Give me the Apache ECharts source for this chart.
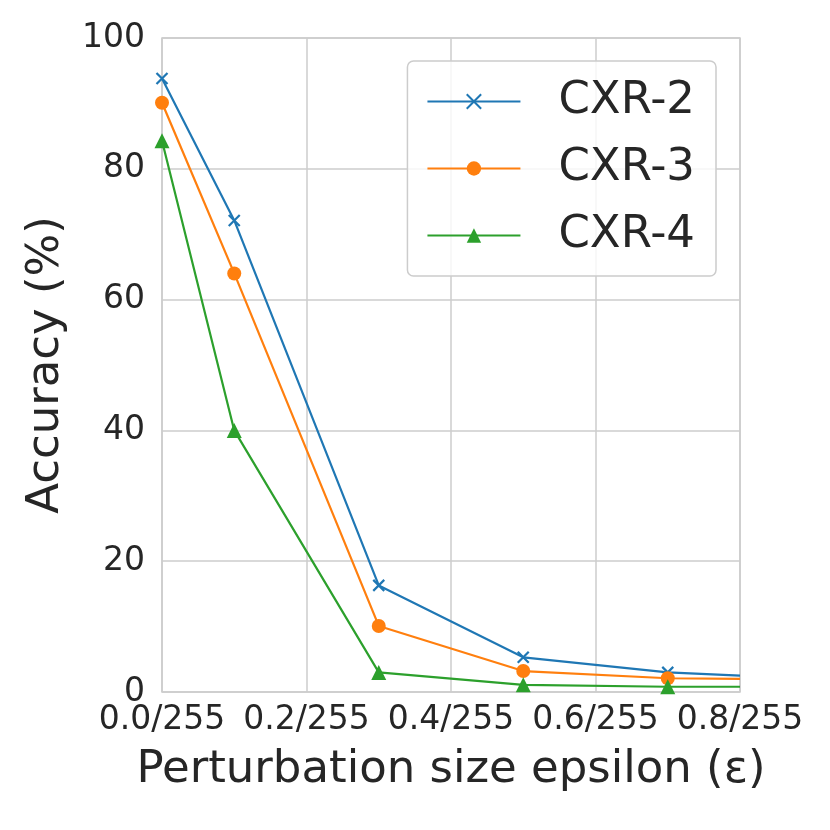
<!DOCTYPE html>
<html>
<head>
<meta charset="utf-8">
<script src="https://cdn.jsdelivr.net/npm/echarts@6/dist/echarts.min.js"></script>
<style>
  html, body { margin: 0; padding: 0; background: #fff; }
  #chart { width: 830px; height: 830px; }
</style>
</head>
<body>
<div id="chart"></div>
<script>
// epsilon values (in units of 1/255)
var epsilons = [0.0, 0.1, 0.3, 0.5, 0.7, 0.8];
var seriesNames = ['CXR-2', 'CXR-3', 'CXR-4'];
var cxr2 = [93.8, 72.1, 16.3, 5.3, 3.0, 2.5];
var cxr3 = [90.1, 64.0, 10.1, 3.2, 2.1, 2.0];
var cxr4 = [84.3, 40.0, 3.0, 1.1, 0.8, 0.8];

var colors = ['#1f77b4', '#ff7f0e', '#2ca02c'];
var crossPath = 'path://M0,0L10,10M10,0L0,10';
var txt = '#262626';
var font = 'DejaVu Sans';

function pairs(vals) {
  return epsilons.map(function (e, i) {
    var item = { value: [e, vals[i]] };
    // last point is only where the line leaves the frame, no marker there
    if (i === epsilons.length - 1) item.symbol = 'none';
    return item;
  });
}

var option = {
  backgroundColor: '#fff',
  animation: false,
  textStyle: { fontFamily: font },
  grid: {
    left: 162, right: 90, top: 38, bottom: 138,
    show: true, borderColor: '#cccccc', borderWidth: 1.5
  },
  legend: {
    right: 114, top: 61,
    orient: 'vertical',
    padding: [18, 21, 18, 19],
    itemWidth: 93,
    itemHeight: 18,
    itemGap: 22,
    backgroundColor: 'rgba(255,255,255,0.8)',
    borderColor: '#cccccc',
    borderWidth: 1.5,
    borderRadius: 6,
    textStyle: { fontSize: 45, color: txt, fontFamily: font, padding: [0, 0, 0, 33] },
    data: seriesNames
  },
  xAxis: {
    type: 'value',
    min: 0, max: 0.8, interval: 0.2,
    name: 'Perturbation size epsilon (\u03b5)',
    nameLocation: 'middle',
    nameGap: 56,
    nameTextStyle: { fontSize: 45, color: txt, fontFamily: font },
    axisLine: { show: false },
    axisTick: { show: false },
    axisLabel: {
      fontSize: 33, color: txt, margin: 12,
      formatter: function (v) { return v.toFixed(1) + '/255'; }
    },
    splitLine: { lineStyle: { color: '#cccccc', width: 1.5 } }
  },
  yAxis: {
    type: 'value',
    min: 0, max: 100, interval: 20,
    name: 'Accuracy (%)',
    nameLocation: 'middle',
    nameGap: 93,
    nameTextStyle: { fontSize: 45, color: txt, fontFamily: font },
    axisLine: { show: false },
    axisTick: { show: false },
    axisLabel: { fontSize: 33, color: txt, margin: 17 },
    splitLine: { lineStyle: { color: '#cccccc', width: 1.5 } }
  },
  series: [
    {
      name: seriesNames[0], type: 'line', data: pairs(cxr2),
      symbol: crossPath, symbolSize: 11,
      lineStyle: { color: colors[0], width: 2.2 },
      itemStyle: { color: colors[0], borderColor: colors[0], borderWidth: 2.2 }
    },
    {
      name: seriesNames[1], type: 'line', data: pairs(cxr3),
      symbol: 'circle', symbolSize: 14,
      lineStyle: { color: colors[1], width: 2.2 },
      itemStyle: { color: colors[1], borderWidth: 0 }
    },
    {
      name: seriesNames[2], type: 'line', data: pairs(cxr4),
      symbol: 'triangle', symbolSize: 15,
      lineStyle: { color: colors[2], width: 2.2 },
      itemStyle: { color: colors[2], borderWidth: 0 }
    }
  ]
};

var myChart = echarts.init(document.getElementById('chart'));
myChart.setOption(option);
</script>
</body>
</html>
